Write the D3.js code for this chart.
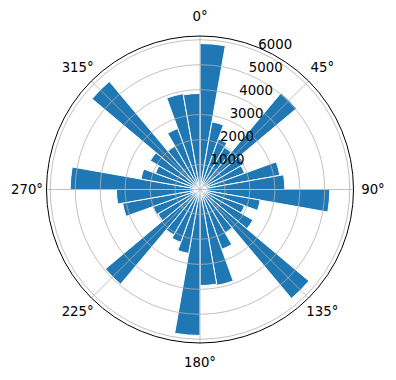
<!DOCTYPE html>
<html><head><meta charset="utf-8">
<script src="https://cdn.jsdelivr.net/npm/d3@7"></script>
<style>body{margin:0;background:#fff}svg{display:block}text{font-family:"DejaVu Sans",sans-serif;font-size:13.3px;fill:#000}</style>
</head><body>
<script>
// Bin start angles (degrees, clockwise from north), bins are 10° wide
const binStarts = d3.range(0, 360, 10);
const counts = [5850, 2750, 2150, 1950, 5050, 2050, 1900, 3250, 3400,
                5200, 2450, 1900, 2450, 5700, 2000, 2550, 3900, 3850,
                5850, 2600, 2250, 2100, 4950, 1950, 2000, 3150, 3350,
                5200, 2400, 1900, 2300, 5650, 2000, 2600, 3900, 3850];
const thetaTicks = [0, 45, 90, 135, 180, 225, 270, 315];
const rTicks = [1000, 2000, 3000, 4000, 5000, 6000];
const binWidth = 10;

const W = 396, H = 380, cx = 200, cy = 189.5, R = 153.5, rMax = 6150;
const svg = d3.select("body").append("svg").attr("width", W).attr("height", H);
const g = svg.append("g").attr("transform", `translate(${cx},${cy})`);
const r = d3.scaleLinear().domain([0, rMax]).range([0, R]);
const rad = d => d * Math.PI / 180;

// bars
const arc = d3.arc().innerRadius(0);
g.selectAll("path.bar").data(binStarts.map((s, i) => ({s, v: counts[i]})))
  .join("path").attr("class", "bar")
  .attr("d", d => arc({outerRadius: r(d.v), startAngle: rad(d.s), endAngle: rad(d.s + binWidth)}))
  .attr("fill", "#1f77b4").attr("stroke", "#ffffff").attr("stroke-width", 1).attr("stroke-linejoin", "miter");

// grid
g.selectAll("circle.grid").data(rTicks).join("circle").attr("class", "grid")
  .attr("r", d => r(d)).attr("fill", "none").attr("stroke", "#b0b0b0").attr("stroke-width", 0.8);
g.selectAll("line.grid").data(thetaTicks).join("line").attr("class", "grid")
  .attr("x1", 0).attr("y1", 0)
  .attr("x2", d => R * Math.sin(rad(d))).attr("y2", d => -R * Math.cos(rad(d)))
  .attr("stroke", "#b0b0b0").attr("stroke-width", 0.8);

// outer spine
g.append("circle").attr("r", R).attr("fill", "none").attr("stroke", "#000").attr("stroke-width", 1);

// theta labels
g.selectAll("text.tl").data(thetaTicks).join("text").attr("class", "tl")
  .attr("x", d => 173 * Math.sin(rad(d))).attr("y", d => -173 * Math.cos(rad(d)))
  .attr("text-anchor", "middle").attr("dominant-baseline", "central")
  .text(d => d + "°");

// r labels at 22.5°
const a = rad(22.5);
g.selectAll("text.rl").data(rTicks).join("text").attr("class", "rl")
  .attr("x", d => r(d) * Math.sin(a) + 1).attr("y", d => -r(d) * Math.cos(a) - 2)
  .attr("text-anchor", "start")
  .text(d => d);
</script>
</body></html>
